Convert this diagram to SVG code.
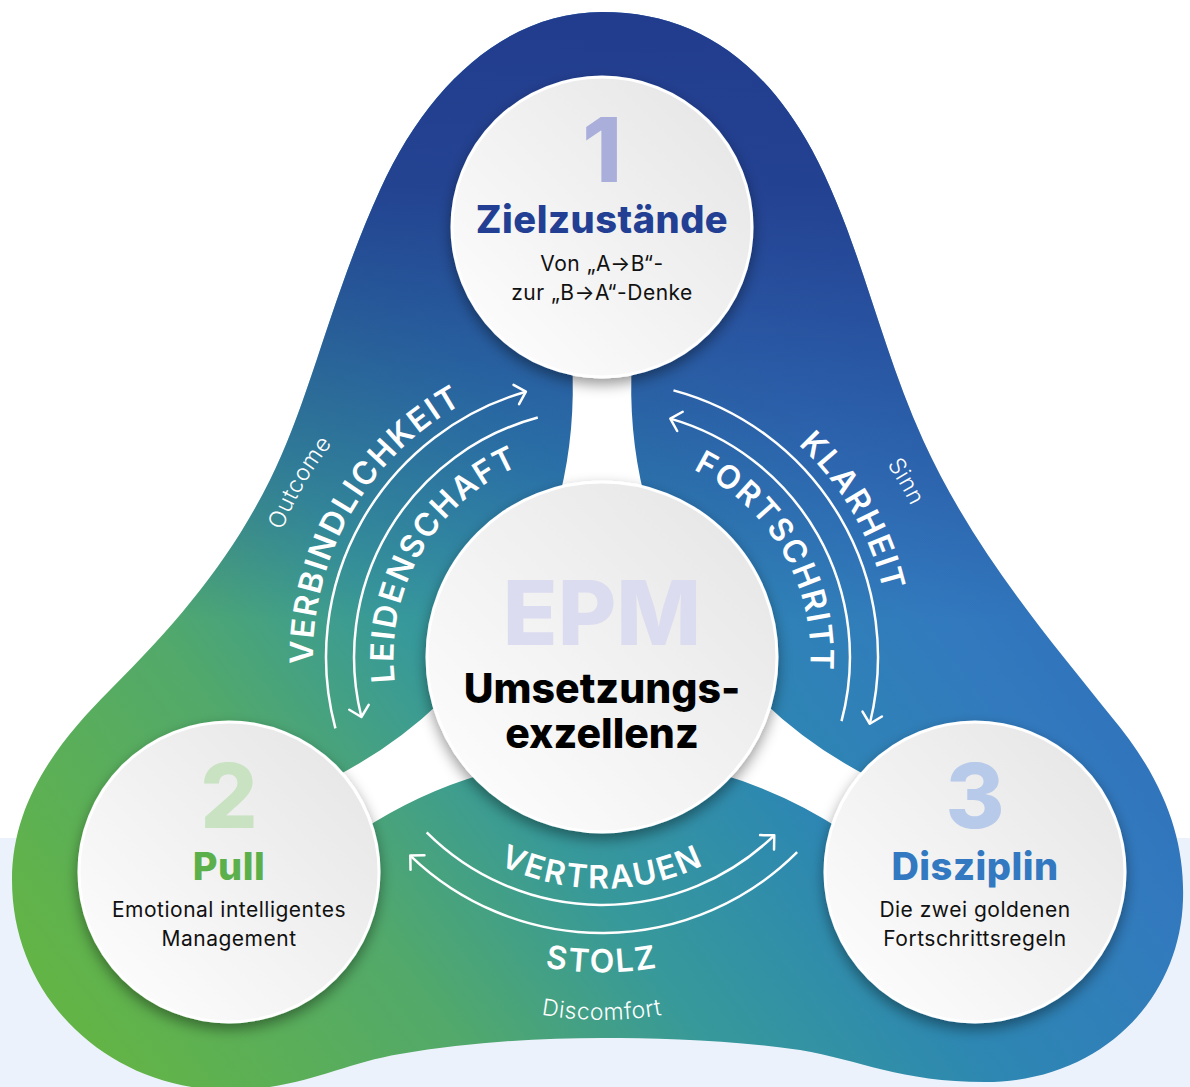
<svg xmlns="http://www.w3.org/2000/svg" width="1190" height="1087" viewBox="0 0 1190 1087">
<defs>
  <linearGradient id="gBase" gradientUnits="userSpaceOnUse" x1="60" y1="1000" x2="1010" y2="300">
    <stop offset="0" stop-color="#63B446"/>
    <stop offset="0.25" stop-color="#52A96A"/>
    <stop offset="0.42" stop-color="#37999A"/>
    <stop offset="0.6" stop-color="#2D87B2"/>
    <stop offset="0.8" stop-color="#3279BE"/>
    <stop offset="1" stop-color="#2D6CB6"/>
  </linearGradient>
  <linearGradient id="gTop" gradientUnits="userSpaceOnUse" x1="0" y1="0" x2="0" y2="620">
    <stop offset="0" stop-color="#223C8D" stop-opacity="1"/>
    <stop offset="0.3" stop-color="#223C8D" stop-opacity="0.9"/>
    <stop offset="0.6" stop-color="#223C8D" stop-opacity="0.5"/>
    <stop offset="1" stop-color="#223C8D" stop-opacity="0"/>
  </linearGradient>
  <linearGradient id="gCircle" x1="1" y1="0" x2="0" y2="1">
    <stop offset="0" stop-color="#E4E4E4"/>
    <stop offset="1" stop-color="#FFFFFF"/>
  </linearGradient>
  <filter id="shadow" x="-25%" y="-25%" width="150%" height="155%">
    <feDropShadow dx="0" dy="6" stdDeviation="7" flood-color="#000" flood-opacity="0.4"/>
  </filter>
  <marker id="ah" markerUnits="userSpaceOnUse" viewBox="-15 -15 30 30" markerWidth="30" markerHeight="30" refX="0" refY="0" orient="auto">
    <path d="M-10,-10 L0,0 L-10,10" fill="none" stroke="#fff" stroke-width="2.5" stroke-linecap="round" stroke-linejoin="round"/>
  </marker>
  <path id="blobPath" d="M 602 12 C 690 12 760 55 812 150 C 860 240 878 340 923 440 C 973 550 1050 640 1110 715 C 1165 780 1185 840 1183 900 C 1180 1000 1100 1082 985 1082 C 900 1082 860 1060 800 1050 C 730 1040 660 1038 602 1038 C 540 1038 470 1042 400 1054 C 340 1064 300 1090 229 1090 C 110 1090 12 1000 12 880 C 12 800 60 740 110 690 C 180 620 230 560 270 480 C 310 400 330 300 380 190 C 430 80 510 12 602 12 Z"/>
  <path id="spoke" d="M 572 360 Q 576 430 560 495 L 644 495 Q 628 430 632 360 Z"/>
  <path id="tpVerb" d="M 351.7 801.5 A 289 289 0 0 1 602 368"/>
  <path id="tpLeid" d="M 421.4 761.25 A 208.5 208.5 0 0 1 602 448.5"/>
  <path id="tpOut" d="M 304.1 829 A 344 344 0 0 1 602 313"/>
  <path id="tpKlar" d="M 602 368 A 289 289 0 0 1 852.3 801.5"/>
  <path id="tpFort" d="M 602 448.5 A 208.5 208.5 0 0 1 782.6 761.25"/>
  <path id="tpSinn" d="M 602 313 A 344 344 0 0 1 899.9 829"/>
  <path id="tpVert" d="M 401.5 772.75 A 231.5 231.5 0 0 0 802.5 772.75"/>
  <path id="tpStolz" d="M 328.8 814.75 A 315.5 315.5 0 0 0 875.2 814.75"/>
  <path id="tpDisc" d="M 288.3 838.5 A 362 362 0 0 0 915.7 838.5"/>
</defs>
<style>
  .lbl{font-family:Inter,"Noto Sans",sans-serif;font-weight:600;font-size:32px;fill:#fff;letter-spacing:2px}
  .small{font-family:Inter,"Noto Sans",sans-serif;font-weight:300;font-size:23px;fill:#fff;letter-spacing:0.5px}
  .arc{fill:none;stroke:#fff;stroke-width:2.5}
  .node-circle{fill:url(#gCircle);stroke:#fff;stroke-width:3;filter:url(#shadow)}
  .num{font-family:Inter,"Noto Sans",sans-serif;font-weight:800;font-size:90px;text-anchor:middle}
  .title{font-family:Inter,"Noto Sans",sans-serif;font-weight:800;font-size:38px;text-anchor:middle;letter-spacing:0.5px}
  .body{font-family:Inter,"Noto Sans",sans-serif;font-weight:400;font-size:21px;fill:#111;text-anchor:middle;letter-spacing:0.5px}
  .center-title{font-family:Inter,"Noto Sans",sans-serif;font-weight:800;font-size:41px;fill:#000;text-anchor:middle}
</style>

<rect x="0" y="0" width="1190" height="1087" fill="#FFFFFF"/>
<rect x="0" y="838" width="1190" height="249" fill="#ECF2FB"/>

<g id="blob">
  <use href="#blobPath" fill="url(#gBase)"/>
  <use href="#blobPath" fill="url(#gTop)"/>
  <use href="#spoke" fill="#FFFFFF"/>
  <use href="#spoke" fill="#FFFFFF" transform="rotate(120 602 657)"/>
  <use href="#spoke" fill="#FFFFFF" transform="rotate(-120 602 657)"/>
</g>

<g id="connectors">
  <path class="arc" d="M 335.4 728.4 A 276 276 0 0 1 525.9 391.7" marker-end="url(#ah)"/>
  <path class="arc" d="M 537.8 417.5 A 248 248 0 0 0 361.4 717" marker-end="url(#ah)"/>
  <path class="arc" d="M 335.4 728.4 A 276 276 0 0 1 525.9 391.7" marker-end="url(#ah)" transform="rotate(120 602 657)"/>
  <path class="arc" d="M 537.8 417.5 A 248 248 0 0 0 361.4 717" marker-end="url(#ah)" transform="rotate(120 602 657)"/>
  <path class="arc" d="M 335.4 728.4 A 276 276 0 0 1 525.9 391.7" marker-end="url(#ah)" transform="rotate(-120 602 657)"/>
  <path class="arc" d="M 537.8 417.5 A 248 248 0 0 0 361.4 717" marker-end="url(#ah)" transform="rotate(-120 602 657)"/>
</g>

<g id="labels">
  <text class="lbl"><textPath href="#tpVerb" startOffset="50%" text-anchor="middle">VERBINDLICHKEIT</textPath></text>
  <text class="lbl"><textPath href="#tpLeid" startOffset="50%" text-anchor="middle">LEIDENSCHAFT</textPath></text>
  <text class="small"><textPath href="#tpOut" startOffset="50%" text-anchor="middle">Outcome</textPath></text>
  <text class="lbl"><textPath href="#tpKlar" startOffset="50%" text-anchor="middle">KLARHEIT</textPath></text>
  <text class="lbl"><textPath href="#tpFort" startOffset="50%" text-anchor="middle">FORTSCHRITT</textPath></text>
  <text class="small"><textPath href="#tpSinn" startOffset="50%" text-anchor="middle">Sinn</textPath></text>
  <text class="lbl"><textPath href="#tpVert" startOffset="50%" text-anchor="middle">VERTRAUEN</textPath></text>
  <text class="lbl"><textPath href="#tpStolz" startOffset="50%" text-anchor="middle">STOLZ</textPath></text>
  <text class="small"><textPath href="#tpDisc" startOffset="50%" text-anchor="middle">Discomfort</textPath></text>
</g>

<g id="node-1">
  <circle class="node-circle" cx="602" cy="227" r="150"/>
  <text class="num" x="602" y="182" fill="#A9AFDA">1</text>
  <text class="title" x="602" y="233" fill="#233F94">Zielzustände</text>
  <text class="body" x="602" y="271">Von „A→B“-</text>
  <text class="body" x="602" y="300">zur „B→A“-Denke</text>
</g>

<g id="node-2">
  <circle class="node-circle" cx="229" cy="872" r="150"/>
  <text class="num" x="229" y="828" fill="#C8E2C2">2</text>
  <text class="title" x="229" y="880" fill="#5CB04B">Pull</text>
  <text class="body" x="229" y="917">Emotional intelligentes</text>
  <text class="body" x="229" y="946">Management</text>
</g>

<g id="node-3">
  <circle class="node-circle" cx="975" cy="872" r="150"/>
  <text class="num" x="975" y="828" fill="#B8CAEA">3</text>
  <text class="title" x="975" y="880" fill="#3379C1">Disziplin</text>
  <text class="body" x="975" y="917">Die zwei goldenen</text>
  <text class="body" x="975" y="946">Fortschrittsregeln</text>
</g>

<g id="node-center">
  <circle class="node-circle" cx="602" cy="657" r="175"/>
  <text class="num" x="602" y="645" fill="#DCDCF0">EPM</text>
  <text class="center-title" x="602" y="703">Umsetzungs-</text>
  <text class="center-title" x="602" y="748">exzellenz</text>
</g>
</svg>
